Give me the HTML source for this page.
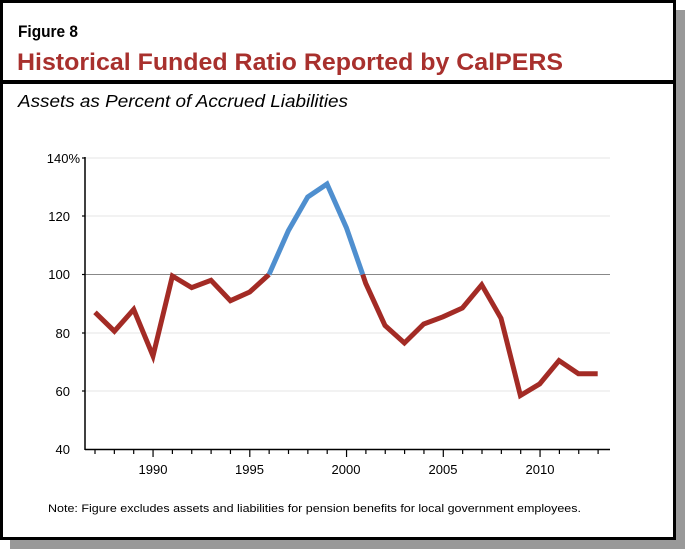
<!DOCTYPE html>
<html><head><style>body{margin:0;background:#fff}svg{display:block}</style></head><body>
<svg width="686" height="550" xmlns="http://www.w3.org/2000/svg" font-family="Liberation Sans, Arial, sans-serif">
<rect x="10" y="10" width="675" height="539" fill="#999"/>
<rect x="1.5" y="1.5" width="673" height="537" fill="#fff" stroke="#000" stroke-width="3"/>
<rect x="0" y="80" width="676" height="4" fill="#000"/>
<text x="18" y="37" font-size="17" font-weight="bold" fill="#000" textLength="60" lengthAdjust="spacingAndGlyphs">Figure 8</text>
<text x="17" y="70" font-size="24" font-weight="bold" fill="#a8302d" textLength="546" lengthAdjust="spacingAndGlyphs">Historical Funded Ratio Reported by CalPERS</text>
<text x="18" y="107" font-size="17.5" font-style="italic" fill="#000" textLength="330" lengthAdjust="spacingAndGlyphs">Assets as Percent of Accrued Liabilities</text>
<g stroke="#e6e6e6" stroke-width="1">
<line x1="85" y1="158" x2="610" y2="158"/><line x1="85" y1="216" x2="610" y2="216"/>
<line x1="85" y1="333" x2="610" y2="333"/><line x1="85" y1="391" x2="610" y2="391"/>
</g>
<line x1="85" y1="274.5" x2="610" y2="274.5" stroke="#888" stroke-width="1"/>
<line x1="85" y1="157" x2="85" y2="450" stroke="#000" stroke-width="1.5"/>
<line x1="85" y1="449.5" x2="610" y2="449.5" stroke="#000" stroke-width="1.5"/>
<g stroke="#000" stroke-width="1.2">
<line x1="82" y1="158" x2="85" y2="158"/><line x1="82" y1="216" x2="85" y2="216"/><line x1="82" y1="274.5" x2="85" y2="274.5"/><line x1="82" y1="333" x2="85" y2="333"/><line x1="82" y1="391" x2="85" y2="391"/>
</g>
<g id="ticks" stroke="#000" stroke-width="1.2"></g>
<g font-size="13" fill="#000" text-anchor="end">
<text x="80" y="163">140%</text><text x="70" y="221">120</text><text x="70" y="279">100</text><text x="70" y="338">80</text><text x="70" y="396">60</text><text x="70" y="454">40</text>
</g>
<g font-size="13" fill="#000" text-anchor="middle">
<text x="153" y="474">1990</text><text x="249.5" y="474">1995</text><text x="346" y="474">2000</text><text x="443" y="474">2005</text><text x="540" y="474">2010</text>
</g>
<polyline fill="none" stroke="#a32b25" stroke-width="5" stroke-linejoin="miter" points="95,312.3 114.4,331.2 133.7,309.4 153,356 172.4,276 191.7,287.6 211,280.3 230.4,300.7 249.7,292 269,274.5"/>
<polyline fill="none" stroke="#4f8fcf" stroke-width="5" points="269,274.5 288.4,230.6 307.7,197 327,184 346.4,227.7 362.7,274.5"/>
<polyline fill="none" stroke="#a32b25" stroke-width="5" points="362.7,274.5 365.7,283.3 385,325.5 404.4,343 423.7,324 443,316.8 462.4,308 481.7,284.8 501,318.3 520.4,395.5 539.7,383.9 559,360.6 578.4,373.7 597.7,373.7"/>
<text x="48" y="512" font-size="11" fill="#000" textLength="533" lengthAdjust="spacingAndGlyphs">Note: Figure excludes assets and liabilities for pension benefits for local government employees.</text>
<script>
var g=document.getElementById('ticks');
for(var y=1987;y<=2013;y++){var x=95+(y-1987)*19.35;var l=document.createElementNS('http://www.w3.org/2000/svg','line');l.setAttribute('x1',x);l.setAttribute('x2',x);l.setAttribute('y1',449);l.setAttribute('y2',(y%5==0)?457:454);g.appendChild(l);}
</script>
</svg>
</body></html>
